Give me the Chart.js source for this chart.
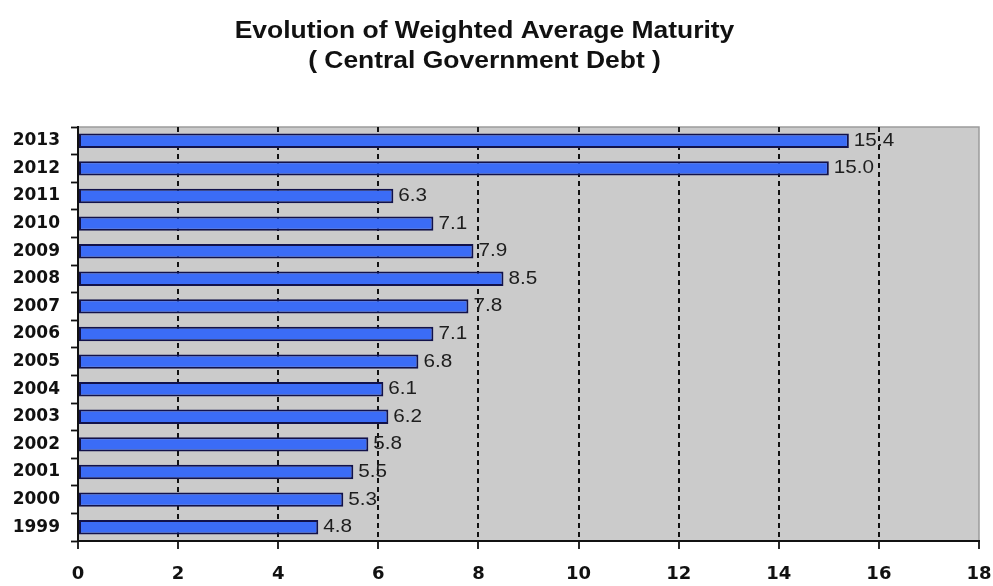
<!DOCTYPE html>
<html>
<head>
<meta charset="utf-8">
<title>Evolution of Weighted Average Maturity</title>
<script src="https://cdn.jsdelivr.net/npm/chart.js@4/dist/chart.umd.min.js"></script>
<style>
  html, body { margin: 0; padding: 0; background: #ffffff; }
  #wrap { width: 993px; height: 586px; }
</style>
</head>
<body>
<div id="wrap"><canvas id="chart" width="993" height="586"></canvas></div>
<script>
// Weighted average maturity of central government debt, in years
const years = ['1999', '2000', '2001', '2002', '2003', '2004', '2005', '2006',
               '2007', '2008', '2009', '2010', '2011', '2012', '2013'];
const maturity = [4.8, 5.3, 5.5, 5.8, 6.2, 6.1, 6.8, 7.1, 7.8, 8.5, 7.9, 7.1, 6.3, 15.0, 15.4];
const titleLines = ['Evolution of Weighted Average Maturity', '( Central Government Debt )'];
const axisMax = 18;
const axisStep = 2;

// grey plotting area with a light frame on top and right
const plotBackground = {
  id: 'plotBackground',
  beforeDraw(chart) {
    const { ctx, chartArea: a } = chart;
    ctx.save();
    ctx.fillStyle = '#cbcbcb';
    ctx.fillRect(a.left, a.top, a.right - a.left, a.bottom - a.top);
    ctx.strokeStyle = '#9c9c9c';
    ctx.lineWidth = 1.5;
    ctx.beginPath();
    ctx.moveTo(a.left, a.top);
    ctx.lineTo(a.right, a.top);
    ctx.lineTo(a.right, a.bottom);
    ctx.stroke();
    ctx.restore();
  }
};

// value printed just past the end of each bar
const valueLabels = {
  id: 'valueLabels',
  afterDatasetsDraw(chart) {
    const { ctx } = chart;
    const meta = chart.getDatasetMeta(0);
    ctx.save();
    ctx.font = '18px "Liberation Sans", Arial, sans-serif';
    ctx.fillStyle = '#1e1e1e';
    ctx.textBaseline = 'middle';
    ctx.textAlign = 'left';
    meta.data.forEach((bar, i) => {
      const v = chart.data.datasets[0].data[i];
      ctx.save();
      ctx.translate(bar.x + 5, bar.y);
      ctx.scale(1.15, 1);
      ctx.fillText(v.toFixed(1), 0, 0);
      ctx.restore();
    });
    ctx.restore();
  }
};

// two-line heading above the plot
const heading = {
  id: 'heading',
  afterDraw(chart) {
    const { ctx } = chart;
    const cx = chart.width / 2 - 12;
    ctx.save();
    ctx.font = 'bold 23px "Liberation Sans", Arial, sans-serif';
    ctx.fillStyle = '#111111';
    ctx.textAlign = 'center';
    ctx.textBaseline = 'middle';
    titleLines.forEach((line, i) => {
      ctx.save();
      ctx.translate(cx, 32 + i * 30);
      ctx.scale(1.15, 1);
      ctx.fillText(line, 0, 0);
      ctx.restore();
    });
    ctx.restore();
  }
};

const tickFont = { family: '"DejaVu Sans", Verdana, sans-serif', size: 17, weight: 'bold' };

new Chart(document.getElementById('chart'), {
  type: 'bar',
  data: {
    labels: years,
    datasets: [{
      data: maturity,
      backgroundColor: '#3b6cf6',
      borderColor: '#12124a',
      borderWidth: 2,
      borderSkipped: false,
      barPercentage: 0.52,
      categoryPercentage: 1.0
    }]
  },
  options: {
    indexAxis: 'y',
    responsive: false,
    animation: false,
    layout: { padding: { top: 127, right: 0, left: 0, bottom: 0 } },
    plugins: {
      legend: { display: false },
      title: { display: false },
      tooltip: { enabled: false }
    },
    scales: {
      x: {
        min: 0,
        max: axisMax,
        afterFit(scale) {
          scale.height = 45;
          scale.paddingLeft = 0;
          scale.paddingRight = 14;
        },
        ticks: {
          stepSize: axisStep,
          color: '#111111',
          font: { family: '"DejaVu Sans", Verdana, sans-serif', size: 18, weight: 'bold' },
          padding: 15,
          maxRotation: 0
        },
        grid: {
          color: (c) => (c.tick && (c.tick.value === 0 || c.tick.value === axisMax)) ? 'rgba(0,0,0,0)' : '#111111',
          lineWidth: 2,
          tickColor: '#111111',
          tickLength: 8,
          tickWidth: 1.8
        },
        border: { color: '#111111', width: 2, dash: [5, 4] }
      },
      y: {
        reverse: true,
        afterFit(scale) { scale.width = 78; },
        ticks: {
          color: '#111111',
          font: tickFont,
          padding: 11
        },
        grid: {
          drawOnChartArea: false,
          tickColor: '#111111',
          tickLength: 7,
          tickWidth: 1.8
        },
        border: { color: '#111111', width: 2 }
      }
    }
  },
  plugins: [plotBackground, valueLabels, heading]
});
</script>
</body>
</html>
